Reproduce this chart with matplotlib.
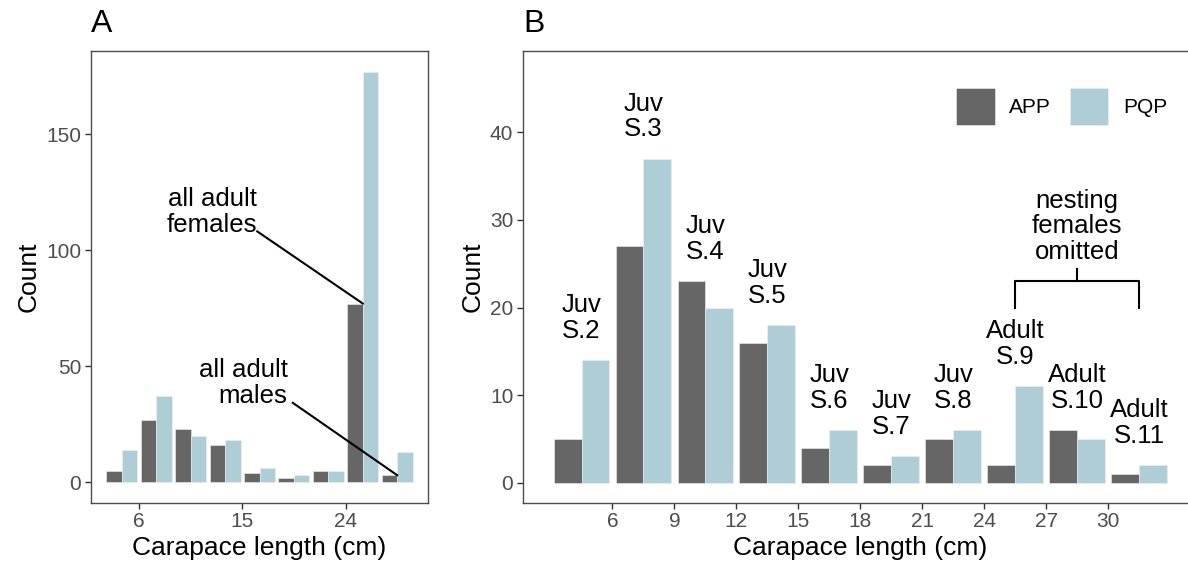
import matplotlib.pyplot as plt
import numpy as np

plt.rcParams['font.family'] = ['Liberation Sans', 'DejaVu Sans']

# carapace length bins (cm), 3 cm wide, left edges
bins_a = [3, 6, 9, 12, 15, 18, 21, 24, 27]
bins_b = [3, 6, 9, 12, 15, 18, 21, 24, 27, 30]
bin_width = 3

# counts, panel A (all animals)
app_a = [5, 27, 23, 16, 4, 2, 5, 77, 3]
pqp_a = [14, 37, 20, 18, 6, 3, 5, 177, 13]

# counts, panel B (nesting females omitted)
app_b = [5, 27, 23, 16, 4, 2, 5, 2, 6, 1]
pqp_b = [14, 37, 20, 18, 6, 3, 6, 11, 5, 2]

stage_labels = ['Juv\nS.2', 'Juv\nS.3', 'Juv\nS.4', 'Juv\nS.5', 'Juv\nS.6',
                'Juv\nS.7', 'Juv\nS.8', 'Adult\nS.9', 'Adult\nS.10', 'Adult\nS.11']

APP_COLOR = '#666666'
PQP_COLOR = '#aecdd7'
BORDER = '#4d4d4d'
TICK_TXT = '#4d4d4d'
ANNOT_SIZE = 18.5
LSPACE = 1.08


def draw_bars(ax, starts, app, pqp):
  """ dodged histogram bars, ggplot style (0.9 of the bin width) """
  centers = np.array(starts) + bin_width / 2
  w = bin_width * 0.9 / 2
  ax.bar(centers - w / 2, app, width=w, color=APP_COLOR,
         edgecolor='#f0f0f0', linewidth=0.4, label='APP')
  ax.bar(centers + w / 2, pqp, width=w, color=PQP_COLOR,
         edgecolor='#f0f0f0', linewidth=0.4, label='PQP')
  return centers


def style_axis(ax):
  for side in ax.spines.values():
    side.set_color(BORDER)
    side.set_linewidth(1.0)
  ax.tick_params(axis='both', colors='#333333', labelcolor=TICK_TXT,
                 labelsize=15, length=4, width=1, pad=3)
  ax.set_xlabel('Carapace length (cm)', fontsize=19, labelpad=3)
  ax.set_ylabel('Count', fontsize=19, labelpad=4)


fig = plt.figure(figsize=(11.88, 5.71), dpi=100)

# panel A
ax_a = fig.add_axes([91 / 1188, 1 - 502.7 / 571, 337 / 1188, 451.7 / 571])
draw_bars(ax_a, bins_a, app_a, pqp_a)
ax_a.set_xlim(1.815, 31.185)
ax_a.set_ylim(-8.85, 185.85)
ax_a.set_xticks([6, 15, 24])
ax_a.set_yticks([0, 50, 100, 150])
style_axis(ax_a)

ax_a.text(16.25, 105.8, 'all adult\nfemales', ha='right', va='bottom',
          fontsize=ANNOT_SIZE, linespacing=LSPACE)
ax_a.plot([16.3, 25.5], [108.1, 77], color='black', lw=1.5)
ax_a.text(18.95, 32, 'all adult\nmales', ha='right', va='bottom',
          fontsize=ANNOT_SIZE, linespacing=LSPACE)
ax_a.plot([19.4, 28.5], [34.2, 3], color='black', lw=1.5)

# panel B, right border runs off the picture
ax_b = fig.add_axes([523 / 1188, 1 - 502.7 / 571, 674.5 / 1188, 451.7 / 571])
centers = draw_bars(ax_b, bins_b, app_b, pqp_b)
ax_b.set_xlim(1.665, 34.335)
ax_b.set_ylim(-2.29, 49.3)
ax_b.set_xticks(np.arange(6, 31, 3))
ax_b.set_yticks([0, 10, 20, 30, 40])
style_axis(ax_b)

tops = np.maximum(app_b, pqp_b)
for c, top, lab in zip(centers, tops, stage_labels):
  ax_b.text(c, top + 2.0, lab, ha='center', va='bottom',
            fontsize=ANNOT_SIZE, linespacing=LSPACE)

# bracket over the adult bins
ax_b.plot([25.5, 25.5, 31.5, 31.5], [20, 23, 23, 20], color='black', lw=1.5)
ax_b.plot([28.5, 28.5], [23, 24.4], color='black', lw=1.5)
ax_b.text(28.5, 25.0, 'nesting\nfemales\nomitted', ha='center', va='bottom',
          fontsize=ANNOT_SIZE, linespacing=LSPACE)

leg = ax_b.legend(loc='upper left', bbox_to_anchor=(956 / 1188, 1 - 88 / 571),
                  bbox_transform=fig.transFigure, ncol=2, frameon=False,
                  fontsize=15, handlelength=1.85, handleheight=2.35,
                  handletextpad=0.7, columnspacing=0.9, borderpad=0,
                  borderaxespad=0)

# panel tags
fig.text(91 / 1188, 1 - 32 / 571, 'A', fontsize=23, ha='left', va='baseline')
fig.text(523 / 1188, 1 - 32 / 571, 'B', fontsize=23, ha='left', va='baseline')

fig.savefig('out.png', dpi=100)
